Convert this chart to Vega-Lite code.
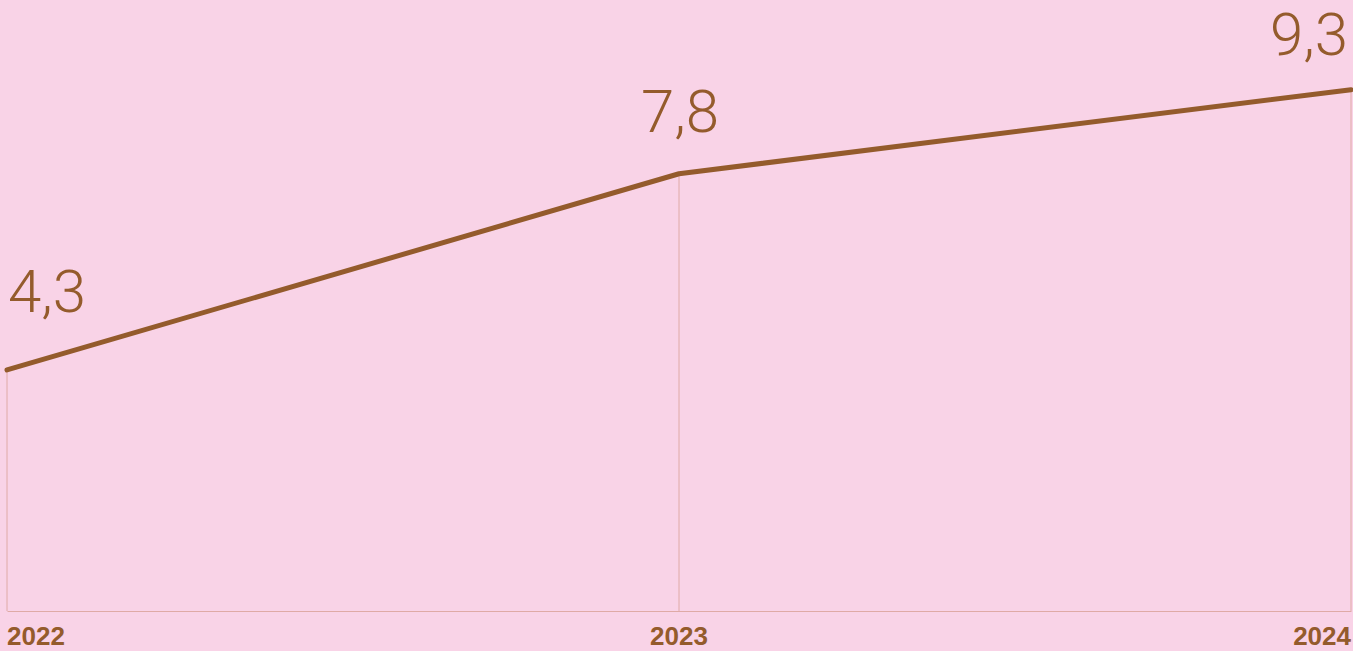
{
  "$schema": "https://vega.github.io/schema/vega-lite/v6.json",
  "width": 1344,
  "height": 611,
  "autosize": {"type": "none"},
  "padding": {"left": 7, "top": 0, "right": 2, "bottom": 40},
  "background": "#f9d3e7",
  "config": {"view": {"stroke": null}},
  "data": {"values": [
    {"year": 2022, "value": 4.3, "label": "4,3"},
    {"year": 2023, "value": 7.8, "label": "7,8"},
    {"year": 2024, "value": 9.3, "label": "9,3"}
  ]},
  "encoding": {
    "x": {"field": "year", "type": "quantitative", "scale": {"domain": [2022, 2024], "nice": false, "zero": false},
      "axis": {"values": [2022, 2023, 2024], "title": null, "grid": false, "ticks": false, "labels": false,
        "domainColor": "#dfaaa6", "domainWidth": 1}},
    "y": {"field": "value", "type": "quantitative", "scale": {"domain": [0, 10.9], "nice": false}, "axis": null}
  },
  "layer": [
    {"mark": {"type": "rule", "color": "#dfaaa6", "strokeWidth": 1}, "encoding": {"y2": {"datum": 0}}},
    {"mark": {"type": "line", "color": "#945b2c", "strokeWidth": 5, "strokeCap": "round", "strokeJoin": "round"}},
    {"mark": {"type": "text", "baseline": "alphabetic", "dy": 34,
        "align": {"expr": "datum.year == 2022 ? 'left' : (datum.year == 2024 ? 'right' : 'center')"},
        "font": "Liberation Sans", "fontWeight": "bold", "fontSize": 26, "color": "#945b2c"},
     "encoding": {"y": {"datum": 0}, "text": {"field": "year", "type": "quantitative", "format": "d"}}},
    {"transform": [{"filter": "datum.year == 2022"}],
     "mark": {"type": "text", "align": "left", "baseline": "alphabetic", "dx": 1, "dy": -58, "font": "Roboto", "fontWeight": 300, "fontSize": 60, "color": "#945b2c"},
     "encoding": {"text": {"field": "label"}}},
    {"transform": [{"filter": "datum.year == 2023"}],
     "mark": {"type": "text", "align": "center", "baseline": "alphabetic", "dx": 1, "dy": -42, "font": "Roboto", "fontWeight": 300, "fontSize": 60, "color": "#945b2c"},
     "encoding": {"text": {"field": "label"}}},
    {"transform": [{"filter": "datum.year == 2024"}],
     "mark": {"type": "text", "align": "right", "baseline": "alphabetic", "dx": -3, "dy": -35, "font": "Roboto", "fontWeight": 300, "fontSize": 60, "color": "#945b2c"},
     "encoding": {"text": {"field": "label"}}}
  ]
}
